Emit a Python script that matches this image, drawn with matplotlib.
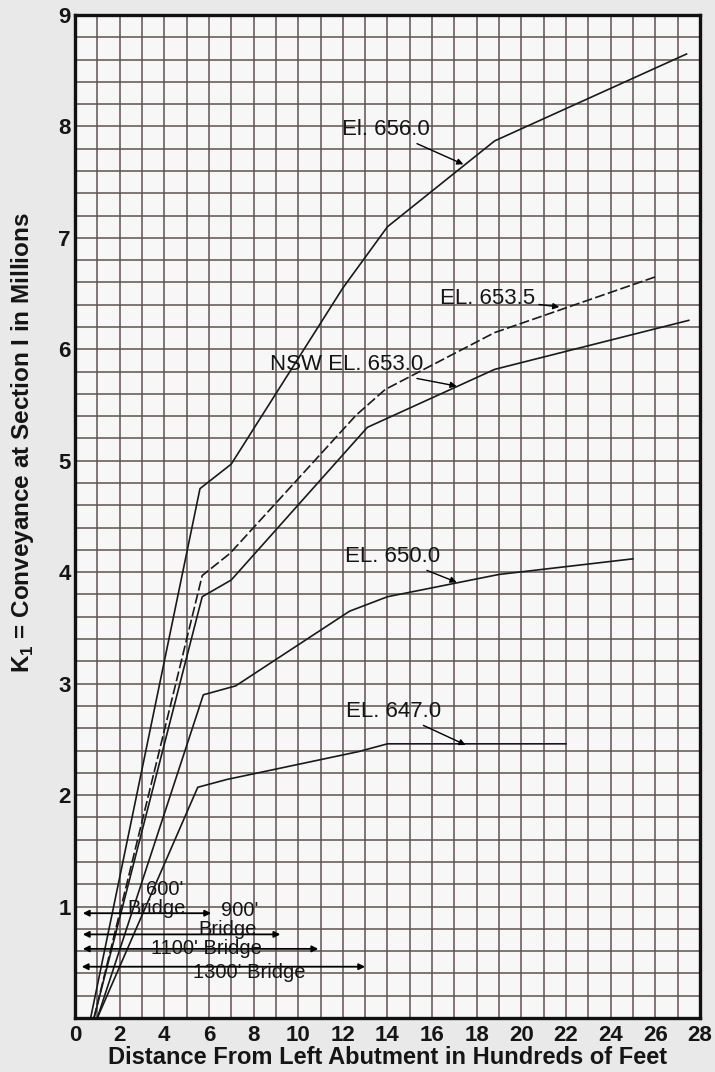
import matplotlib
matplotlib.use("Agg")
import matplotlib.pyplot as plt
import numpy as np

plt.rcParams['font.family'] = ['Liberation Sans', 'DejaVu Sans']

# 曲線データ (距離[百ft], K1[百万])
x_656 = [0.7, 5.6, 7.0, 12.0, 14.0, 18.8, 27.4]
y_656 = [0.0, 4.75, 4.97, 6.55, 7.1, 7.87, 8.65]

x_6535 = [0.85, 5.7, 6.95, 12.6, 13.9, 18.8, 26.0]
y_6535 = [0.0, 3.97, 4.17, 5.41, 5.64, 6.15, 6.65]

x_653 = [0.85, 5.7, 7.0, 13.1, 18.8, 27.5]
y_653 = [0.0, 3.78, 3.93, 5.3, 5.82, 6.26]

x_650 = [1.0, 5.75, 7.2, 12.3, 14.0, 19.0, 25.0]
y_650 = [0.0, 2.9, 2.98, 3.65, 3.78, 3.98, 4.12]

x_647 = [1.0, 5.5, 6.8, 12.7, 14.0, 22.0]
y_647 = [0.0, 2.07, 2.14, 2.39, 2.46, 2.46]

# 橋長の矢印
bridge_start = [0.35, 0.35, 0.35, 0.3]
bridge_end = [6.1, 9.2, 10.9, 13.0]
bridge_y = [0.94, 0.75, 0.62, 0.46]

xticks = np.arange(0, 29, 2)
yticks = np.arange(1, 10, 1)

fig = plt.figure(figsize=(7.15, 10.72), dpi=100)
fig.patch.set_facecolor('#e9e9e9')
ax = fig.add_axes([0.1049, 0.0504, 0.874, 0.9356])
ax.set_facecolor('#f7f7f7')

ax.set_xlim(0, 28)
ax.set_ylim(0, 9)

# 方眼
gc = '#5e5252'
for gx in np.arange(1, 28, 1):
    ax.axvline(gx, color=gc, lw=1.1, zorder=1)
for gy in np.arange(0.2, 9, 0.2):
    ax.axhline(gy, color=gc, lw=1.1, zorder=1)

lc = '#1a1a1a'
ax.plot(x_656, y_656, color=lc, lw=1.2, zorder=3)
ax.plot(x_6535, y_6535, color=lc, lw=1.2, ls=(0, (6, 2)), zorder=3)
ax.plot(x_653, y_653, color=lc, lw=1.2, zorder=3)
ax.plot(x_650, y_650, color=lc, lw=1.2, zorder=3)
ax.plot(x_647, y_647, color=lc, lw=1.2, zorder=3)

ap = dict(arrowstyle='-|>', color='black', lw=1.0, mutation_scale=9, shrinkA=1, shrinkB=0)
fs = 16
tc = '#151515'
ax.annotate('El. 656.0', xy=(17.4, 7.66), xytext=(15.9, 7.97), ha='right', va='center',
            fontsize=fs, color=tc, arrowprops=ap, zorder=5)
ax.annotate('EL. 653.5', xy=(21.7, 6.38), xytext=(20.6, 6.46), ha='right', va='center',
            fontsize=fs, color=tc, arrowprops=ap, zorder=5)
ax.annotate('NSW EL. 653.0', xy=(17.1, 5.67), xytext=(15.6, 5.86), ha='right', va='center',
            fontsize=fs, color=tc, arrowprops=ap, zorder=5)
ax.annotate('EL. 650.0', xy=(17.1, 3.91), xytext=(16.35, 4.14), ha='right', va='center',
            fontsize=fs, color=tc, arrowprops=ap, zorder=5)
ax.annotate('EL. 647.0', xy=(17.5, 2.45), xytext=(16.4, 2.75), ha='right', va='center',
            fontsize=fs, color=tc, arrowprops=ap, zorder=5)

for x0, x1, yb in zip(bridge_start, bridge_end, bridge_y):
    ax.annotate('', xy=(x0, yb), xytext=(x1, yb),
                arrowprops=dict(arrowstyle='<|-|>', color='black', lw=1.3, mutation_scale=9,
                                shrinkA=0, shrinkB=0), zorder=4)

bfs = 14.5
ax.text(4.0, 1.15, "600'", ha='center', va='center', fontsize=bfs, color=tc, zorder=5)
ax.text(3.67, 0.98, 'Bridge', ha='center', va='center', fontsize=bfs, color=tc, zorder=5)
ax.text(7.4, 0.96, "900'", ha='center', va='center', fontsize=bfs, color=tc, zorder=5)
ax.text(6.85, 0.79, 'Bridge', ha='center', va='center', fontsize=bfs, color=tc, zorder=5)
ax.text(5.87, 0.62, "1100' Bridge", ha='center', va='center', fontsize=bfs, color=tc, zorder=5)
ax.text(7.8, 0.41, "1300' Bridge", ha='center', va='center', fontsize=bfs, color=tc, zorder=5)

ax.set_xticks(xticks)
ax.set_yticks(yticks)
ax.tick_params(length=0, labelsize=16)
ax.tick_params(axis='x', pad=5)
ax.tick_params(axis='y', pad=3)
for t in ax.get_xticklabels() + ax.get_yticklabels():
    t.set_fontweight('bold')
    t.set_color(tc)

for s in ax.spines.values():
    s.set_linewidth(2.4)
    s.set_color('#111111')
    s.set_zorder(6)

ax.set_xlabel('Distance From Left Abutment in Hundreds of Feet', fontsize=17,
              fontweight='bold', color=tc, labelpad=0)
ax.set_ylabel(r'K$_\mathregular{1}$ = Conveyance at Section I in Millions', fontsize=17.5,
              fontweight='bold', color=tc)
ax.yaxis.set_label_coords(-0.062, 0.574)

plt.savefig('out.png', dpi=100, facecolor=fig.get_facecolor())
